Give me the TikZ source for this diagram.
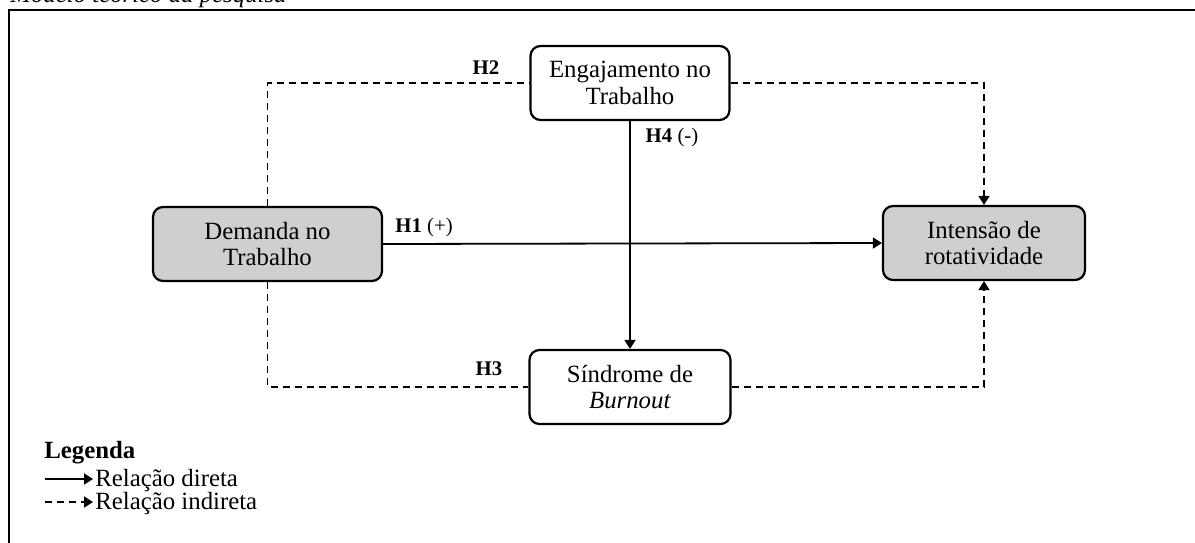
\documentclass[tikz,border=0pt]{standalone}
\usepackage{fontspec}
\setmainfont{Liberation Serif}
\usepackage{xcolor}
\usepackage{tikz}
\usetikzlibrary{arrows.meta, positioning, calc}
\definecolor{boxGray}{RGB}{208,206,206}

\begin{document}
\begin{tikzpicture}[x=0.5pt, y=-0.5pt,
    cbox/.style={rectangle, rounded corners=5pt, draw, line width=1.1pt, minimum height=37pt,
      font=\fontsize{12.4}{13.4}\selectfont, align=center, inner sep=2pt},
    hlabel/.style={font=\fontsize{10.4}{12}\selectfont, inner sep=0pt},
    darr/.style={-{Triangle[length=4.5pt, width=5.5pt]}, line width=0.9pt},
    iarr/.style={line width=0.9pt, dash pattern=on 3.6pt off 2.4pt},
    legtext/.style={font=\fontsize{12.4}{13.4}\selectfont, inner sep=0pt, anchor=west}
  ]
  \useasboundingbox (0,0) rectangle (1195,542);
  \draw[line width=1.1pt] (9,560) -- (9,10) -- (1210,10);
  \node[font=\fontsize{12.4}{13.4}\selectfont\itshape, anchor=base west, inner sep=0pt] (title) at (10,2) {Modelo teórico da pesquisa};

  \node[cbox, fill=boxGray, minimum width=114.5pt] (demanda) at (267.5,244) {Demanda no\\Trabalho};
  \node[cbox, fill=white, minimum width=99.5pt] (engaj) at (630,83) {Engajamento no\\Trabalho};
  \node[cbox, fill=boxGray, minimum width=101pt] (rotat) at (984,243) {Intensão de\\rotatividade};
  \node[cbox, fill=white, minimum width=100.5pt] (burnout) at (630,387) {Síndrome de\\\textit{Burnout}};

  % direct relations
  \draw[darr] (demanda.east) -- (rotat.west);
  \draw[darr] (engaj.south) -- (burnout.north);
  % indirect relations
  \draw[iarr] (demanda.north) |- (engaj.west);
  \draw[iarr, -{Triangle[length=4.5pt, width=5.5pt]}] (engaj.east) -| (rotat.north);
  \draw[iarr] (demanda.south) |- (burnout.west);
  \draw[iarr, -{Triangle[length=4.5pt, width=5.5pt]}] (burnout.east) -| (rotat.south);

  \node[hlabel] (h1) at (424,227) {\textbf{H1} (+)};
  \node[hlabel] (h2) at (486,68) {\textbf{H2}};
  \node[hlabel] (h3) at (489,369) {\textbf{H3}};
  \node[hlabel] (h4) at (672,137) {\textbf{H4} (-)};

  % legend
  \node[legtext, font=\fontsize{12.4}{13.4}\selectfont\bfseries] (leg) at (44,453) {Legenda};
  \coordinate (d1) at (45,479);
  \coordinate (d2) at (93,479);
  \coordinate (i1) at (45,502);
  \coordinate (i2) at (93,502);
  \draw[darr] (d1) -- (d2);
  \draw[iarr, -{Triangle[length=4.5pt, width=5.5pt]}] (i1) -- (i2);
  \node[legtext] (ldir) at (95,481) {Relação direta};
  \node[legtext] (lind) at (95,504) {Relação indireta};
\end{tikzpicture}
\end{document}
